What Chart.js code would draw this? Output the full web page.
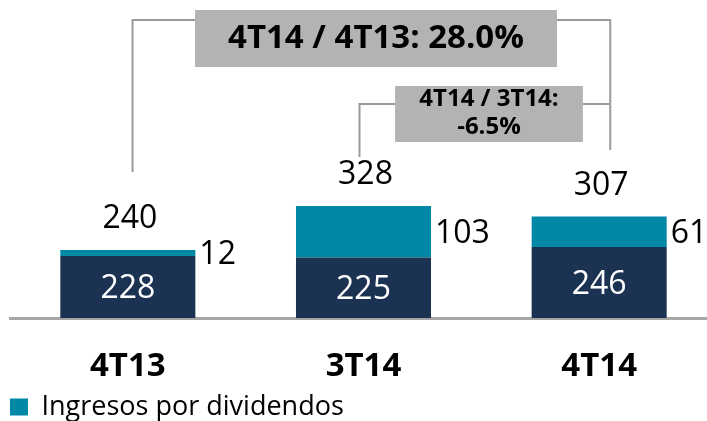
<!DOCTYPE html>
<html>
<head>
<meta charset="utf-8">
<script src="https://cdn.jsdelivr.net/npm/chart.js@4.4.1/dist/chart.umd.min.js"></script>
<style>
  html, body { margin: 0; padding: 0; background: #fff; overflow: hidden; }
  #wrap { width: 717px; height: 421px; }
</style>
</head>
<body>
<div id="wrap"><canvas id="myChart"></canvas></div>
<script>
const categorias = ['4T13', '3T14', '4T14']
const otros = [228, 225, 246]
const dividendos = [12, 103, 61]
const totales = [240, 328, 307]
const variaciones = ['4T14 / 4T13: 28.0%', '4T14 / 3T14:\n-6.5%']

const fuente = "'Open Sans', 'DejaVu Sans', sans-serif"

// etiquetas de valores
const etiquetas = {
    id: 'etiquetas',
    afterDatasetsDraw(chart) {
        const ctx = chart.ctx
        const fondo = chart.chartArea.bottom
        const base = chart.getDatasetMeta(0).data
        const top = chart.getDatasetMeta(1).data
        ctx.save()
        ctx.font = '32px ' + fuente
        ctx.textBaseline = 'middle'
        base.forEach((bar, i) => {
            ctx.fillStyle = '#ffffff'
            ctx.textAlign = 'center'
            ctx.fillText(otros[i], bar.x, (bar.y + Math.min(bar.base, fondo)) / 2 + 2)
        })
        top.forEach((bar, i) => {
            ctx.fillStyle = '#000000'
            ctx.textAlign = 'left'
            ctx.fillText(dividendos[i], bar.x + bar.width / 2 + 4, (bar.y + bar.base) / 2 + 2)
            ctx.textAlign = 'center'
            ctx.fillText(totales[i], bar.x + 2, bar.y - 31)
        })
        ctx.restore()
    }
}

// corchetes y cajas de variacion
const variacion = {
    id: 'variacion',
    afterDraw(chart) {
        const ctx = chart.ctx
        const x = chart.scales.x
        const y = chart.scales.y
        const px = v => x.getPixelForValue(v)
        const py = v => y.getPixelForValue(v)
        ctx.save()
        ctx.strokeStyle = '#9a9a9a'
        ctx.lineWidth = 2
        // corchete grande 4T13 -> 4T14
        ctx.beginPath()
        ctx.moveTo(px(0.02), py(396))
        ctx.lineTo(px(0.02), py(700))
        ctx.lineTo(px(2.047), py(700))
        ctx.lineTo(px(2.047), py(440))
        ctx.stroke()
        // corchete chico 3T14 -> 4T14
        ctx.beginPath()
        ctx.moveTo(px(0.983), py(426))
        ctx.lineTo(px(0.983), py(532))
        ctx.lineTo(px(2.047), py(532))
        ctx.stroke()

        ctx.fillStyle = '#b3b3b3'
        ctx.fillRect(px(0.285), py(720), px(1.821) - px(0.285), py(606) - py(720))
        ctx.fillRect(px(1.134), py(568), px(1.931) - px(1.134), py(456) - py(568))

        ctx.fillStyle = '#000000'
        ctx.textAlign = 'center'
        ctx.textBaseline = 'middle'
        ctx.font = 'bold 33px ' + fuente
        ctx.fillText(variaciones[0], (px(0.285) + px(1.821)) / 2, py(663))
        ctx.font = 'bold 24px ' + fuente
        const lineas = variaciones[1].split('\n')
        ctx.fillText(lineas[0], (px(1.134) + px(1.931)) / 2, py(541))
        ctx.fillText(lineas[1], (px(1.134) + px(1.931)) / 2, py(485))
        ctx.restore()
    }
}

const ctx1 = document.getElementById('myChart')

const myChart = new Chart(ctx1, {
    type: 'bar',
    data: {
        labels: categorias,
        datasets: [{
            label: 'Otros',
            data: otros,
            backgroundColor: '#1b3253',
            barPercentage: 0.573,
            categoryPercentage: 1
        }, {
            label: 'Ingresos por dividendos',
            data: dividendos,
            backgroundColor: '#0089a6',
            barPercentage: 0.573,
            categoryPercentage: 1
        }]
    },
    options: {
        responsive: true,
        maintainAspectRatio: false,
        animation: false,
        layout: { padding: { left: 10, top: 0, right: 0, bottom: -9.5 } },
        plugins: {
            tooltip: { enabled: false },
            legend: {
                position: 'bottom',
                align: 'start',
                labels: {
                    filter: item => item.datasetIndex === 1,
                    boxWidth: 18,
                    boxHeight: 17,
                    padding: 0,
                    color: '#000000',
                    font: { family: fuente, size: 27 }
                }
            }
        },
        scales: {
            x: {
                stacked: true,
                grid: { display: false, drawTicks: true, tickLength: 22.5 },
                border: { display: true, color: '#a6a6a6', width: 3 },
                ticks: {
                    color: '#000000',
                    padding: 10,
                    font: { family: fuente, size: 33, weight: 'bold', lineHeight: 1 }
                }
            },
            y: {
                stacked: true,
                display: false,
                min: 104,
                max: 740
            }
        }
    },
    plugins: [etiquetas, variacion]
})
</script>
</body>
</html>
